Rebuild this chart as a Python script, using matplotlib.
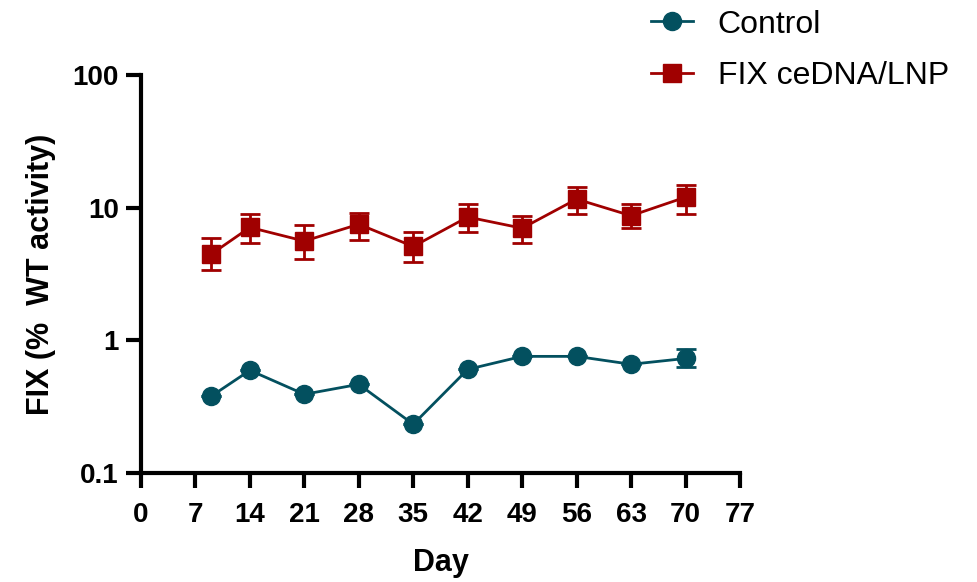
import numpy as np
import matplotlib.pyplot as plt
from matplotlib.lines import Line2D

plt.rcParams['font.family'] = ['Liberation Sans', 'DejaVu Sans']

days = [9, 14, 21, 28, 35, 42, 49, 56, 63, 70]

control = [0.378, 0.594, 0.392, 0.466, 0.233, 0.604, 0.757, 0.757, 0.66, 0.73]
control_hi = [0.378, 0.594, 0.392, 0.466, 0.233, 0.604, 0.757, 0.757, 0.66, 0.855]
control_lo = [0.378, 0.594, 0.392, 0.466, 0.233, 0.604, 0.757, 0.757, 0.66, 0.626]

fix = [4.45, 7.1, 5.6, 7.5, 5.1, 8.5, 7.0, 11.6, 8.7, 12.0]
fix_hi = [5.87, 9.0, 7.4, 9.1, 6.5, 10.6, 8.6, 14.2, 10.7, 14.9]
fix_lo = [3.37, 5.4, 4.1, 5.7, 3.9, 6.5, 5.4, 8.9, 7.0, 8.9]

x_ticks = list(range(0, 78, 7))
y_ticks = [0.1, 1, 10, 100]
y_labels = ['0.1', '1', '10', '100']

c_ctrl = '#03505f'
c_fix = '#a00000'

fig = plt.figure(figsize=(9.77, 5.82), dpi=100)
ax = fig.add_axes([0.1443, 0.1873, 0.6131, 0.6838])

def err(v, hi, lo):
    v = np.array(v)
    return [v - np.array(lo), np.array(hi) - v]

ax.errorbar(days, control, yerr=err(control, control_hi, control_lo), color=c_ctrl,
            marker='o', markersize=13, lw=2, capsize=7, capthick=2, elinewidth=2)
ax.errorbar(days, fix, yerr=err(fix, fix_hi, fix_lo), color=c_fix,
            marker='s', markersize=12.5, lw=2, capsize=7, capthick=2, elinewidth=2)

ax.set_yscale('log')
ax.set_ylim(0.1, 100)
ax.set_xlim(0, 77)
ax.set_yticks(y_ticks)
ax.set_yticklabels(y_labels)
ax.minorticks_off()
ax.set_xticks(x_ticks)
ax.tick_params(width=3, length=11, labelsize=20, pad=5)
ax.tick_params(axis='x', pad=10)
for lab in ax.get_xticklabels() + ax.get_yticklabels():
    lab.set_fontweight('bold')
for s in ['top', 'right']:
    ax.spines[s].set_visible(False)
for s in ['left', 'bottom']:
    ax.spines[s].set_linewidth(3)

ax.set_xlabel('Day', fontsize=22, fontweight='bold', labelpad=14)
ax.set_ylabel('FIX (%  WT activity)', fontsize=22, fontweight='bold', labelpad=12)

handles = [Line2D([], [], color=c_ctrl, marker='o', markersize=13, lw=2),
           Line2D([], [], color=c_fix, marker='s', markersize=12.5, lw=2)]
fig.legend(handles, ['Control', 'FIX ceDNA/LNP'], loc='upper left',
           bbox_to_anchor=(0.637, 1.033), frameon=False, fontsize=23,
           handlelength=1.3, handletextpad=0.78, labelspacing=0.68)

fig.savefig('out.png', dpi=100)
